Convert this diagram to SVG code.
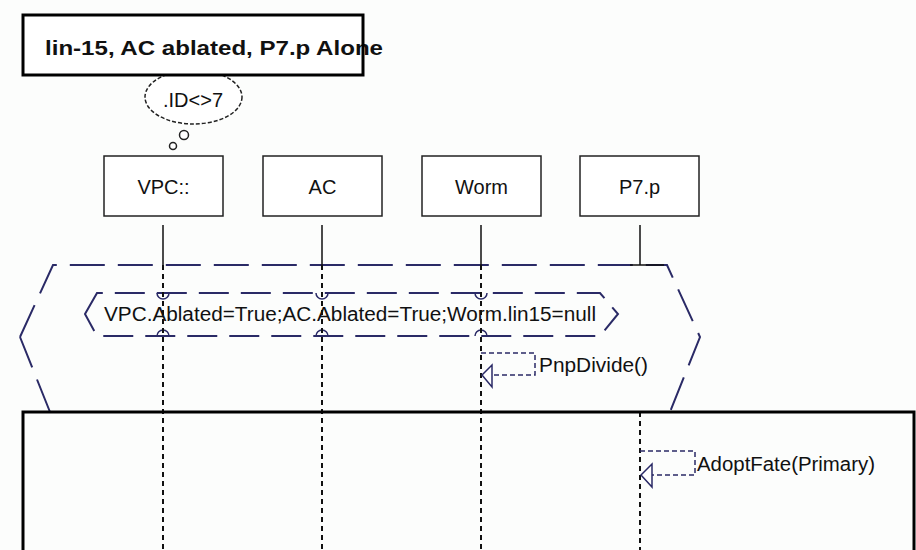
<svg xmlns="http://www.w3.org/2000/svg" width="916" height="550" viewBox="0 0 916 550">
<defs>
<style>
text{font-family:"Liberation Sans",Arial,sans-serif;font-size:20px;fill:#111}
.box{fill:#fff;stroke:#222;stroke-width:1.5}
.frag{fill:none;stroke:#2a2a66;stroke-width:2;stroke-dasharray:35 13}
.cond{fill:none;stroke:#2a2a66;stroke-width:2;stroke-dasharray:30 12}
.hop{fill:none;stroke:#2a2a66;stroke-width:1.5}
.life{stroke:#111;stroke-width:1.5;fill:none}
.lifed{stroke:#111;stroke-width:2;stroke-dasharray:5 4;fill:none}
.msg{fill:none;stroke:#2a2a66;stroke-width:1.5;stroke-dasharray:5 3}
.head{fill:#fff;stroke:#2a2a66;stroke-width:1.5}
.thick{fill:none;stroke:#000;stroke-width:3}
</style>
</defs>
<rect x="0" y="0" width="916" height="550" fill="#fcfdfc"/>

<g id="fragment-outer">
<path class="frag" d="M20,337 L53,265 L667,265 L700,337 L670,412"/>
<path class="frag" d="M50,412 L20,337"/>
</g>

<g id="fragment-condition">
<path class="cond" d="M85,314 L97,293 L600,293 L618,314 L600,336 L97,336 Z"/>
<path class="hop" d="M157,293 A6,6 0 0 0 169,293 M316,293 A6,6 0 0 0 328,293 M475,293 A6,6 0 0 0 487,293"/>
<path class="hop" d="M157,336 A6,6 0 0 1 169,336 M316,336 A6,6 0 0 1 328,336 M475,336 A6,6 0 0 1 487,336"/>
<text x="104" y="321" textLength="492" lengthAdjust="spacingAndGlyphs">VPC.Ablated=True;AC.Ablated=True;Worm.lin15=null</text>
</g>

<g id="connectors">
<path class="life" d="M163,225 V265 M322,225 V265 M481,225 V265 M640,225 V265 M630,265 H664"/>
<path class="lifed" d="M163,265 V550 M322,265 V550 M481,265 V550 M640,412 V550"/>
<g id="msg-pnpdivide">
<path class="msg" d="M481,353 H535 V375 H483"/>
<polygon class="head" points="482,375 492,365 492,387"/>
</g>
<g id="msg-adoptfate">
<path class="msg" d="M640,451 H695 V475 H642"/>
<polygon class="head" points="641,475 652,464 652,487"/>
</g>
</g>

<g id="labels">
<text x="539" y="372" textLength="109" lengthAdjust="spacingAndGlyphs">PnpDivide()</text>
<text x="697" y="471" textLength="178" lengthAdjust="spacingAndGlyphs">AdoptFate(Primary)</text>
</g>

<g id="node-vpc">
<rect class="box" x="104" y="156" width="119" height="60"/>
<text x="163.5" y="194" text-anchor="middle">VPC::</text>
</g>
<g id="node-ac">
<rect class="box" x="263" y="156" width="119" height="60"/>
<text x="322.5" y="194" text-anchor="middle">AC</text>
</g>
<g id="node-worm">
<rect class="box" x="422" y="156" width="119" height="60"/>
<text x="481.5" y="194" text-anchor="middle">Worm</text>
</g>
<g id="node-p7p">
<rect class="box" x="580" y="156" width="119" height="60"/>
<text x="639.5" y="194" text-anchor="middle">P7.p</text>
</g>

<g id="thought">
<ellipse cx="193.5" cy="97" rx="48.5" ry="27" fill="#fff" stroke="#222" stroke-width="1.5" stroke-dasharray="4 2"/>
<text x="193" y="107" text-anchor="middle">.ID&lt;&gt;7</text>
<circle cx="184" cy="135" r="4.5" fill="#fff" stroke="#222" stroke-width="1.5"/>
<circle cx="173" cy="146" r="3.5" fill="#fff" stroke="#222" stroke-width="1.5"/>
</g>

<g id="title">
<rect x="23" y="15" width="340" height="60" fill="#fff"/>
<text x="45" y="55" font-weight="bold" textLength="338" lengthAdjust="spacingAndGlyphs">lin-15, AC ablated, P7.p Alone</text>
<rect class="thick" x="23" y="15" width="340" height="60"/>
</g>

<g id="frame">
<rect class="thick" x="23" y="412" width="891" height="160"/>
</g>
</svg>
